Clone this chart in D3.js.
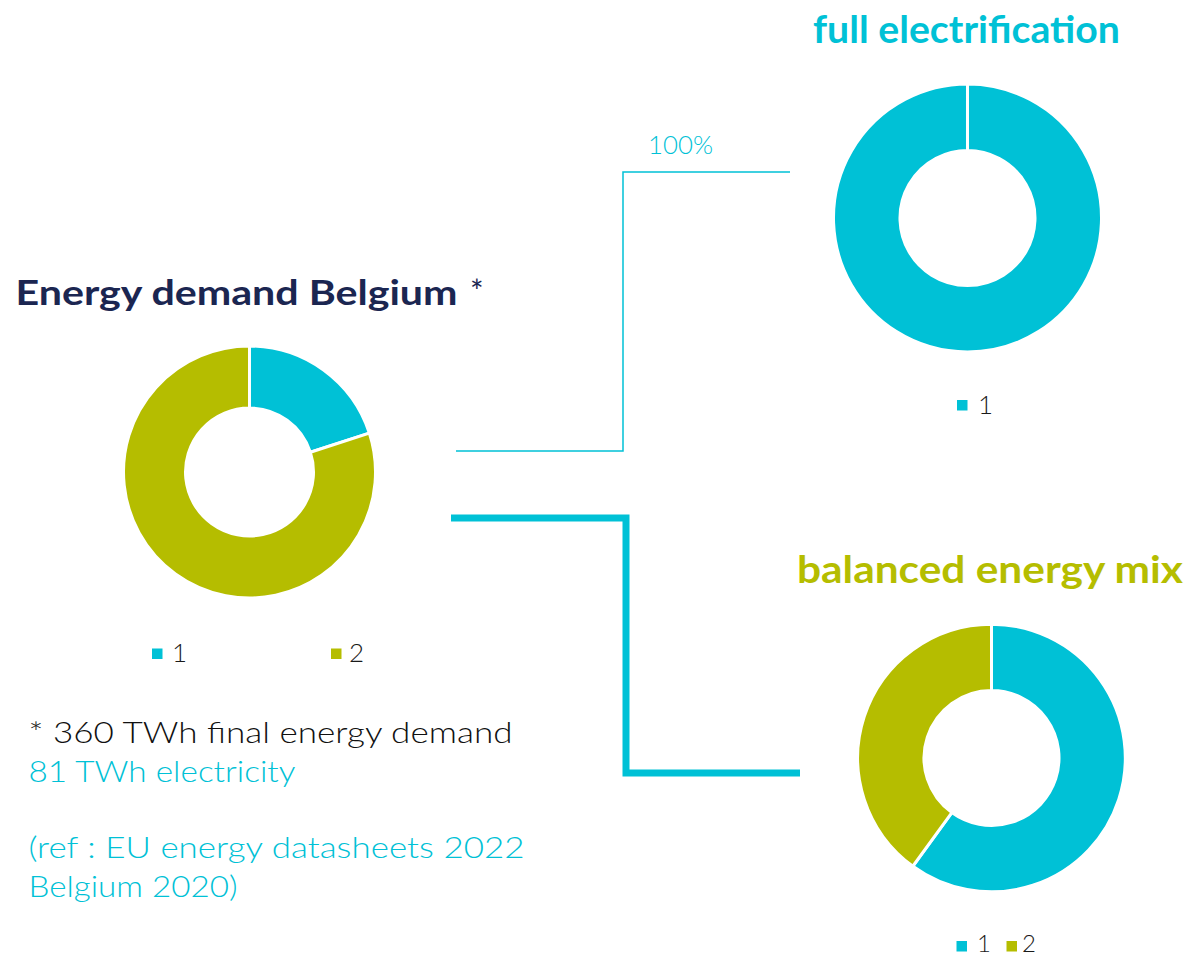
<!DOCTYPE html>
<html><head><meta charset="utf-8">
<script src="https://cdn.jsdelivr.net/npm/d3@7"></script>
<style>html,body{margin:0;padding:0;background:#fff;} svg{display:block}</style>
</head><body>
<script>
// ---- data ----
const seriesLabels = ["1", "2"];
const demandValues = [20, 80];
const fullElecValues = [100];
const balancedValues = [60, 40];
const connectorLabel = "100%";
const titles = ["Energy demand Belgium", "full electrification", "balanced energy mix"];
const noteLines = ["* 360 TWh final energy demand", "81 TWh electricity", "", "(ref : EU energy datasheets 2022", "Belgium 2020)"];

// ---- style ----
const TEAL = "#00C1D6", OLIVE = "#B5BD00", NAVY = "#1B2651";
const FONT = "Lato, 'Open Sans', sans-serif";
const color = d3.scaleOrdinal().domain(seriesLabels).range([TEAL, OLIVE]);

const W = 1192, H = 957;
const svg = d3.select("body").append("svg").attr("width", W).attr("height", H);

function donut(values, cx, cy, rOut, rIn) {
  const sw = 3;
  const pie = d3.pie().sort(null).value(d => d.v)
    .endAngle(values.length === 1 ? 2 * Math.PI - 1e-4 : 2 * Math.PI);
  const arc = d3.arc().innerRadius(rIn - sw / 2).outerRadius(rOut + sw / 2);
  const data = values.map((v, i) => ({v, k: seriesLabels[i]}));
  svg.append("g").attr("transform", `translate(${cx},${cy})`)
    .selectAll("path").data(pie(data)).join("path")
    .attr("d", arc)
    .attr("fill", d => color(d.data.k))
    .attr("stroke", "#fff").attr("stroke-width", sw);
}

function legend(n, items, size) {
  items.slice(0, n).forEach((p, i) => {
    svg.append("rect").attr("x", p.sx).attr("y", p.sy).attr("width", 10.5).attr("height", 10.5)
      .attr("fill", color(seriesLabels[i]));
    svg.append("text").attr("x", p.tx).attr("y", p.ty).text(seriesLabels[i])
      .attr("font-family", FONT).attr("font-size", size || 26).attr("font-weight", 300).attr("fill", "#1a1a1a");
  });
}

function txt(s, x, y, size, weight, fill, len) {
  const t = svg.append("text").attr("x", x).attr("y", y).text(s)
    .attr("font-family", FONT).attr("font-size", size).attr("font-weight", weight).attr("fill", fill);
  if (len) t.attr("textLength", len).attr("lengthAdjust", "spacingAndGlyphs");
  return t;
}

// ---- connectors ----
const line = d3.line();
svg.append("path").attr("d", line([[456, 451], [623, 451], [623, 172], [790, 172]]))
  .attr("fill", "none").attr("stroke", TEAL).attr("stroke-width", 1.5);
svg.append("path").attr("d", line([[451, 518], [626, 518], [626, 773], [800, 773]]))
  .attr("fill", "none").attr("stroke", TEAL).attr("stroke-width", 7).attr("stroke-linejoin", "miter");
txt(connectorLabel, 648, 154, 26, 300, TEAL, 65);

// ---- donuts ----
donut(demandValues, 249.5, 472, 124.5, 65.5);
donut(fullElecValues, 967.5, 218, 132.5, 69);
donut(balancedValues, 991.5, 758, 132.3, 69);

// ---- legends ----
legend(2, [{sx: 152, sy: 648.5, tx: 172, ty: 662}, {sx: 331, sy: 648.5, tx: 349, ty: 662}]);
legend(1, [{sx: 957, sy: 400, tx: 978, ty: 414}]);
legend(2, [{sx: 956.5, sy: 941, tx: 977, ty: 951.5}, {sx: 1006.5, sy: 941, tx: 1022, ty: 951.5}], 24);

// ---- titles ----
txt(titles[0], 15.5, 305, 35, 700, NAVY, 442);
txt("*", 470, 303, 32, 400, NAVY);
txt(titles[1], 813, 43, 38, 700, TEAL, 307);
txt(titles[2], 797, 583, 38, 700, OLIVE, 386);

// ---- notes ----
const noteY = [743, 782, 820, 858, 897];
const noteLen = [484, 267, 0, 496, 209];
noteLines.forEach((s, i) => {
  if (!s) return;
  txt(s, 28.5, noteY[i], 29, 300, i === 0 ? "#111" : TEAL, noteLen[i]);
});
</script>
</body></html>
